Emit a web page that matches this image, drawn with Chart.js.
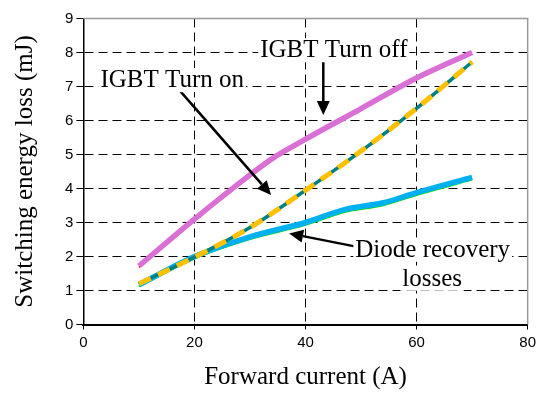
<!DOCTYPE html>
<html>
<head>
<meta charset="utf-8">
<script src="https://cdn.jsdelivr.net/npm/chart.js@4.4.1/dist/chart.umd.min.js"></script>
<style>
html,body{margin:0;padding:0;background:#fff;}
#wrap{width:540px;height:394px;}
</style>
</head>
<body>
<div id="wrap"><canvas id="c" width="540" height="394"></canvas></div>
<script>
// ---- data ----
const turnOffCurrent = [10, 20, 30, 34, 40, 50, 60, 70];
const turnOffLoss    = [1.72, 3.10, 4.40, 4.88, 5.45, 6.35, 7.25, 8.00];
const turnOffRedLoss = [1.68, 3.05, 4.35, 4.83, 5.40, 6.30, 7.20, 7.96];

const turnOnCurrent  = [10, 20, 30, 40, 50, 60, 70];
const turnOnLoss     = [1.20, 1.98, 2.85, 3.95, 5.10, 6.36, 7.72];

const diodeCurrent   = [10, 20, 30, 40, 47, 54, 60, 70];
const diodeLoss      = [1.17, 2.00, 2.58, 3.00, 3.38, 3.58, 3.88, 4.33];
const diodeGreenLoss = [1.12, 1.94, 2.51, 2.93, 3.31, 3.51, 3.81, 4.26];

const xTicks = [0, 20, 40, 60, 80];
const yTicks = [0, 1, 2, 3, 4, 5, 6, 7, 8, 9];

const labels = [
  {text: 'IGBT Turn off', x: 45.1, y: 7.86},
  {text: 'IGBT Turn on', x: 16.0, y: 6.98},
  {text: 'Diode recovery', x: 62.9, y: 1.99},
  {text: 'losses', x: 62.8, y: 1.14}
];
const arrows = [
  {x1: 43.2, y1: 7.74, x2: 43.2, y2: 6.16},
  {x1: 17.4, y1: 6.87, x2: 33.8, y2: 3.81},
  {x1: 49.1, y1: 2.29, x2: 37.05, y2: 2.68}
];

function pts(xs, ys){ return xs.map((x,i)=>({x:x, y:ys[i]})); }

const serif = "'Liberation Serif','Times New Roman',serif";
const sans = "'Liberation Sans',Arial,sans-serif";

const annot = {
  id: 'annot',
  afterDatasetsDraw(chart){
    const {ctx, chartArea: a, scales:{x, y}} = chart;
    ctx.save();
    // top and right frame
    ctx.strokeStyle = '#9a9a9a';
    ctx.lineWidth = 1.5;
    ctx.beginPath();
    ctx.moveTo(a.left, a.top); ctx.lineTo(a.right, a.top); ctx.lineTo(a.right, a.bottom);
    ctx.stroke();
    // arrows
    ctx.strokeStyle = '#000'; ctx.fillStyle = '#000'; ctx.lineWidth = 2.5;
    arrows.forEach(ar=>{
      const x1 = x.getPixelForValue(ar.x1), y1 = y.getPixelForValue(ar.y1);
      const x2 = x.getPixelForValue(ar.x2), y2 = y.getPixelForValue(ar.y2);
      const ang = Math.atan2(y2-y1, x2-x1);
      const hl = 14, hw = 6.5;
      const bx = x2 - hl*Math.cos(ang), by = y2 - hl*Math.sin(ang);
      ctx.beginPath(); ctx.moveTo(x1,y1); ctx.lineTo(bx,by); ctx.stroke();
      ctx.beginPath();
      ctx.moveTo(x2,y2);
      ctx.lineTo(bx + hw*Math.sin(ang), by - hw*Math.cos(ang));
      ctx.lineTo(bx - hw*Math.sin(ang), by + hw*Math.cos(ang));
      ctx.closePath(); ctx.fill();
    });
    // text labels
    ctx.font = '25px ' + serif;
    ctx.textAlign = 'center'; ctx.textBaseline = 'alphabetic';
    labels.forEach(l=>{
      const px = x.getPixelForValue(l.x), py = y.getPixelForValue(l.y);
      const w = ctx.measureText(l.text).width;
      ctx.fillStyle = '#fff';
      ctx.fillRect(px - w/2 - 2, py - 19, w + 4, 24);
      ctx.fillStyle = '#000';
      ctx.fillText(l.text, px, py);
    });
    ctx.restore();
  }
};

new Chart(document.getElementById('c'), {
  type: 'line',
  data: {
    datasets: [
      {label:'IGBT Turn off', data: pts(turnOffCurrent, turnOffLoss), borderColor:'#DA70D6', borderWidth:5.5, order:1},
      {label:'IGBT Turn off (red)', data: pts(turnOffCurrent, turnOffRedLoss), borderColor:'#FF0000', borderWidth:1.5, order:2},
      {label:'IGBT Turn on', data: pts(turnOnCurrent, turnOnLoss), borderColor:'#FFC000', borderWidth:5, borderDash:[13,8], order:3},
      {label:'IGBT Turn on (teal)', data: pts(turnOnCurrent, turnOnLoss), borderColor:'#008080', borderWidth:3.5, order:4},
      {label:'Diode recovery losses', data: pts(diodeCurrent, diodeLoss), borderColor:'#00B0F0', borderWidth:5.5, order:5},
      {label:'Diode (green)', data: pts(diodeCurrent, diodeGreenLoss), borderColor:'#00E000', borderWidth:2, order:6}
    ]
  },
  options: {
    responsive: false,
    animation: false,
    devicePixelRatio: 1,
    layout: {padding: {left: 0, right: 3.4, top: 18.5, bottom: 0}},
    elements: {point:{radius:0}, line:{cubicInterpolationMode:'monotone', borderCapStyle:'butt', fill:false}},
    plugins: {legend:{display:false}, tooltip:{enabled:false}},
    scales: {
      x: {
        type: 'linear', min: 0, max: 80,
        afterBuildTicks(s){ s.ticks = xTicks.map(v=>({value:v})); },
        afterFit(s){ s.height = 69.5; },
        ticks: {font:{family:sans, size:15}, color:'#000', padding:4, maxRotation:0},
        grid: {
          color: c => (c.tick && (c.tick.value === 0 || c.tick.value === 80)) ? 'rgba(0,0,0,0)' : '#000',
          lineWidth: 1, drawTicks:true, tickLength:5,
          tickColor:'#000', tickWidth:1, tickBorderDash:[]
        },
        border: {display:true, color:'#000', width:2, dash:[9,5]},
        title: {display:true, text:'Forward current (A)', font:{family:serif, size:25}, color:'#000', padding:{top:0,bottom:2}}
      },
      y: {
        type: 'linear', min: 0, max: 9,
        afterBuildTicks(s){ s.ticks = yTicks.map(v=>({value:v})); },
        afterFit(s){ s.width = 83.4; },
        ticks: {font:{family:sans, size:15}, color:'#000', padding:3},
        grid: {
          color: c => (c.tick && (c.tick.value === 0 || c.tick.value === 9)) ? 'rgba(0,0,0,0)' : '#000',
          lineWidth: 1, drawTicks:true, tickLength:7,
          tickColor:'#000', tickWidth:1, tickBorderDash:[]
        },
        border: {display:true, color:'#000', width:1.5, dash:[9,5]},
        title: {display:true, text:'Switching energy loss (mJ)', font:{family:serif, size:25}, color:'#000', padding:{top:10,bottom:0}}
      }
    }
  },
  plugins: [annot]
});
</script>
</body>
</html>
